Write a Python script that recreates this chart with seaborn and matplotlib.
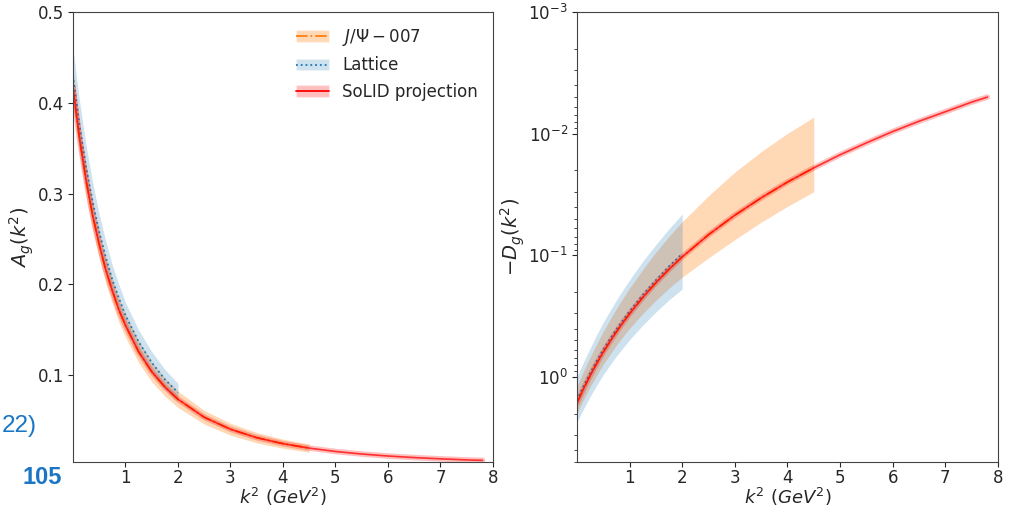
import matplotlib
matplotlib.use("Agg")
import matplotlib.pyplot as plt
import seaborn as sns
from matplotlib.patches import Patch
from matplotlib.lines import Line2D

# k^2 grids (GeV^2)
k2_solid = [0, 0.125, 0.25, 0.375, 0.5, 0.625, 0.75, 0.875, 1, 1.25, 1.5, 1.75,
            2, 2.5, 3, 3.5, 4, 4.5, 5, 5.5, 6, 6.5, 7, 7.5, 7.8]
k2_jpsi = [0, 0.125, 0.25, 0.375, 0.5, 0.625, 0.75, 0.875, 1, 1.25, 1.5, 1.75,
           2, 2.5, 3, 3.5, 4, 4.5]
k2_lat = [0, 0.125, 0.25, 0.375, 0.5, 0.625, 0.75, 0.875, 1, 1.25, 1.5, 1.75, 2]

# A_g(k^2)
ag_solid = [0.417, 0.361, 0.315, 0.276, 0.244, 0.216, 0.193, 0.172, 0.155,
            0.126, 0.104, 0.0872, 0.0736, 0.0538, 0.0406, 0.0313, 0.0247,
            0.0198, 0.0161, 0.0133, 0.0111, 0.0094, 0.0080, 0.0068, 0.0063]
ag_jpsi = [0.417, 0.361, 0.315, 0.276, 0.244, 0.216, 0.193, 0.172, 0.155,
           0.126, 0.104, 0.0872, 0.0736, 0.0538, 0.0406, 0.0313, 0.0247, 0.0198]
ag_jpsi_lo = [0.397, 0.3425, 0.298, 0.260, 0.229, 0.2015, 0.179, 0.1585, 0.142,
              0.114, 0.093, 0.0772, 0.0646, 0.0463, 0.0341, 0.0256, 0.0197, 0.0153]
ag_jpsi_hi = [0.437, 0.3795, 0.332, 0.292, 0.259, 0.2305, 0.207, 0.1855, 0.168,
              0.138, 0.115, 0.0972, 0.0826, 0.0613, 0.0471, 0.0370, 0.0297, 0.0243]
ag_lat = [0.430, 0.375, 0.329, 0.291, 0.258, 0.230, 0.205, 0.185, 0.166,
          0.137, 0.114, 0.0955, 0.081]
ag_lat_lo = [0.400, 0.348, 0.305, 0.2695, 0.239, 0.2125, 0.189, 0.170, 0.152,
             0.124, 0.102, 0.0845, 0.071]
ag_lat_hi = [0.460, 0.402, 0.353, 0.3125, 0.277, 0.2475, 0.221, 0.200, 0.180,
             0.150, 0.126, 0.1065, 0.091]

# -D_g(k^2)
dg_solid = [1.64, 1.25, 0.975, 0.775, 0.625, 0.513, 0.425, 0.357, 0.302, 0.222,
            0.168, 0.130, 0.103, 0.0677, 0.0468, 0.0337, 0.0250, 0.0191, 0.0149,
            0.0119, 0.0096, 0.0079, 0.0066, 0.0055, 0.0050]
dg_jpsi = [1.64, 1.25, 0.975, 0.775, 0.625, 0.513, 0.425, 0.357, 0.302, 0.222,
           0.168, 0.130, 0.103, 0.0677, 0.0468, 0.0337, 0.0250, 0.0191]
dg_jpsi_lo = [1.20, 0.899, 0.687, 0.535, 0.423, 0.339, 0.274, 0.225, 0.186,
              0.131, 0.0944, 0.0698, 0.0529, 0.0324, 0.0207, 0.01405, 0.00995, 0.0073]
dg_jpsi_hi = [1.99, 1.529, 1.205, 0.966, 0.787, 0.654, 0.547, 0.465, 0.398,
              0.301, 0.2345, 0.186, 0.151, 0.1049, 0.0742, 0.0534, 0.0396, 0.030]
dg_lat = [1.55, 1.19, 0.93, 0.738, 0.595, 0.489, 0.405, 0.341, 0.288, 0.211,
          0.160, 0.123, 0.097]
dg_lat_lo = [1.0, 0.754, 0.58, 0.450, 0.355, 0.287, 0.233, 0.192, 0.159, 0.112,
             0.0817, 0.0604, 0.0458]
dg_lat_hi = [2.34, 1.827, 1.45, 1.170, 0.957, 0.800, 0.673, 0.576, 0.494, 0.375,
             0.292, 0.232, 0.189]

labels = [r'$J/\Psi-007$', 'Lattice', 'SoLID projection']

sns.set_style('ticks')
plt.rcParams['font.family'] = ['DejaVu Sans']
plt.rcParams['xtick.labelsize'] = 12
plt.rcParams['ytick.labelsize'] = 12
plt.rcParams['xtick.major.pad'] = 1.5
plt.rcParams['ytick.major.pad'] = 3

fig = plt.figure(figsize=(10.09, 5.09), dpi=100)
ax1 = fig.add_axes([0.0723, 0.0923, 0.4163, 0.884])
ax2 = fig.add_axes([0.5718, 0.0923, 0.4172, 0.884])


def draw_panel(ax, solid, jpsi, jlo, jhi, lat, llo, lhi):
    ax.fill_between(k2_jpsi, jlo, jhi, color='tab:orange', alpha=0.3, lw=0)
    ax.fill_between(k2_lat, llo, lhi, color='tab:blue', alpha=0.22, lw=0)
    sns.lineplot(x=k2_jpsi, y=jpsi, ax=ax, color='tab:orange', ls='-.', lw=1.3)
    sns.lineplot(x=k2_lat, y=lat, ax=ax, color='tab:blue', ls=':', lw=1.3)
    # thin SoLID uncertainty band
    sns.lineplot(x=k2_solid, y=solid, ax=ax, color='red', lw=4, alpha=0.25)
    sns.lineplot(x=k2_solid, y=solid, ax=ax, color='red', lw=1.2, alpha=0.75)
    ax.set_xlim(0, 8)
    ax.set_xticks(range(1, 9))
    ax.set_xlabel(r'$k^2\ (GeV^2)$', fontsize=13, labelpad=-1)
    for s in ax.spines.values():
        s.set_color('#444444')


draw_panel(ax1, ag_solid, ag_jpsi, ag_jpsi_lo, ag_jpsi_hi, ag_lat, ag_lat_lo, ag_lat_hi)
ax1.set_ylim(0.0045, 0.5)
ax1.set_yticks([0.1, 0.2, 0.3, 0.4, 0.5])
ax1.set_ylabel(r'$A_g(k^2)$', fontsize=14, labelpad=1)

draw_panel(ax2, dg_solid, dg_jpsi, dg_jpsi_lo, dg_jpsi_hi, dg_lat, dg_lat_lo, dg_lat_hi)
ax2.set_yscale('log')
ax2.set_ylim(5, 1e-3)
ax2.set_ylabel(r'$-D_g(k^2)$', fontsize=14, labelpad=1)

handles = [
    (Patch(facecolor='tab:orange', alpha=0.3), Line2D([], [], color='tab:orange', ls='-.', lw=1.3)),
    (Patch(facecolor='tab:blue', alpha=0.22), Line2D([], [], color='tab:blue', ls=':', lw=1.3)),
    (Patch(facecolor='red', alpha=0.25), Line2D([], [], color='red', lw=1.3)),
]
ax1.legend(handles=handles, labels=labels, loc='upper right', frameon=False,
           fontsize=12, handlelength=2.0)

# slide text fragments at the left edge
fig.text(0.002, 0.163, '22)', color='#1a75c5', fontsize=17.5,
         family=['Liberation Sans', 'DejaVu Sans'], ha='left', va='center')
fig.text(0.022, 0.061, '105', color='#1a75c5', fontsize=17, fontweight='bold',
         family=['Liberation Sans', 'DejaVu Sans'], ha='left', va='center')

fig.savefig('out.png', dpi=100)
